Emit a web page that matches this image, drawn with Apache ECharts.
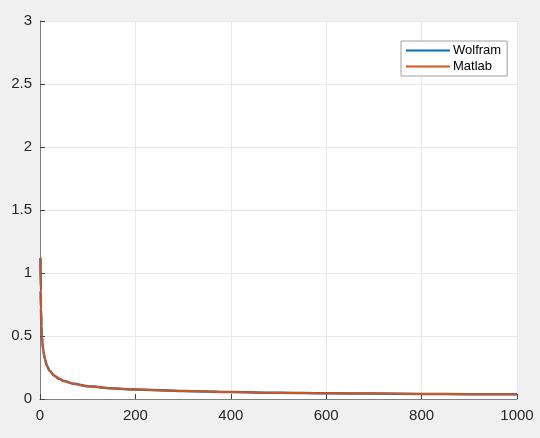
<!DOCTYPE html>
<html><head><meta charset="utf-8">
<script src="https://cdn.jsdelivr.net/npm/echarts@6/dist/echarts.min.js"></script>
<style>html,body{margin:0;padding:0;background:#f0f0f0;}#c{width:540px;height:438px;}</style>
</head><body><div id="c"></div>
<script>
var xValues = [1, 1.5, 2, 3, 4, 5, 7, 10, 15, 20, 30, 40, 50, 70, 100, 150, 200, 300, 400, 500, 600, 700, 800, 900, 1000];
var wolfram = [1.12, 0.86, 0.72, 0.58, 0.5, 0.45, 0.38, 0.32, 0.26, 0.225, 0.185, 0.16, 0.143, 0.121, 0.102, 0.085, 0.075, 0.063, 0.055, 0.05, 0.046, 0.043, 0.040, 0.038, 0.037];
var matlab  = [1.12, 0.86, 0.72, 0.58, 0.5, 0.45, 0.38, 0.32, 0.26, 0.225, 0.185, 0.16, 0.143, 0.121, 0.102, 0.085, 0.075, 0.063, 0.055, 0.05, 0.046, 0.043, 0.040, 0.038, 0.037];
var xTicks = [0, 200, 400, 600, 800, 1000];
var yTicks = [0, 0.5, 1, 1.5, 2, 2.5, 3];
var seriesNames = ['Wolfram', 'Matlab'];

function pairs(xs, ys) { return xs.map(function (x, i) { return [x, ys[i]]; }); }

var chart = echarts.init(document.getElementById('c'), null, {renderer: 'canvas'});
var font = 'Liberation Sans, Arial, Helvetica, sans-serif';
chart.setOption({
  backgroundColor: '#f0f0f0',
  animation: false,
  grid: {left: 40, right: 23, top: 21, bottom: 39, show: true, backgroundColor: '#ffffff', borderWidth: 0},
  legend: {
    data: seriesNames,
    orient: 'vertical',
    left: 401, top: 41,
    backgroundColor: '#ffffff',
    borderColor: '#a0a0a0', borderWidth: 1,
    padding: [3, 6, 3, 5],
    itemGap: 3,
    itemWidth: 44, itemHeight: 2,
    icon: 'rect',
    textStyle: {fontFamily: font, fontSize: 13, color: '#000', padding: [0, 0, 0, -2]}
  },
  xAxis: {
    type: 'value', min: xTicks[0], max: xTicks[xTicks.length - 1], interval: xTicks[1] - xTicks[0],
    axisLine: {show: true, onZero: false, lineStyle: {color: '#808080', width: 1}},
    axisTick: {show: true, inside: true, length: 5, lineStyle: {color: '#404040'}},
    axisLabel: {fontFamily: font, fontSize: 15, color: '#262626', margin: 9, formatter: function (v) { return String(v); }},
    splitLine: {show: true, lineStyle: {color: '#e8e8e8', width: 1}}
  },
  yAxis: {
    type: 'value', min: yTicks[0], max: yTicks[yTicks.length - 1], interval: yTicks[1] - yTicks[0],
    axisLine: {show: true, onZero: false, lineStyle: {color: '#808080', width: 1}},
    axisTick: {show: true, inside: true, length: 5, lineStyle: {color: '#404040'}},
    axisLabel: {fontFamily: font, fontSize: 15, color: '#262626', margin: 8, formatter: function (v) { return String(v); }},
    splitLine: {show: true, lineStyle: {color: '#e8e8e8', width: 1}}
  },
  series: [
    {name: seriesNames[0], type: 'line', data: pairs(xValues, wolfram), showSymbol: false, smooth: 0.3, smoothMonotone: 'x',
     lineStyle: {color: '#0072BD', width: 2.5}, itemStyle: {color: '#0072BD'}},
    {name: seriesNames[1], type: 'line', data: pairs(xValues, matlab), showSymbol: false, smooth: 0.3, smoothMonotone: 'x',
     lineStyle: {color: '#D95319', width: 2}, itemStyle: {color: '#D95319'}}
  ]
});
</script></body></html>
